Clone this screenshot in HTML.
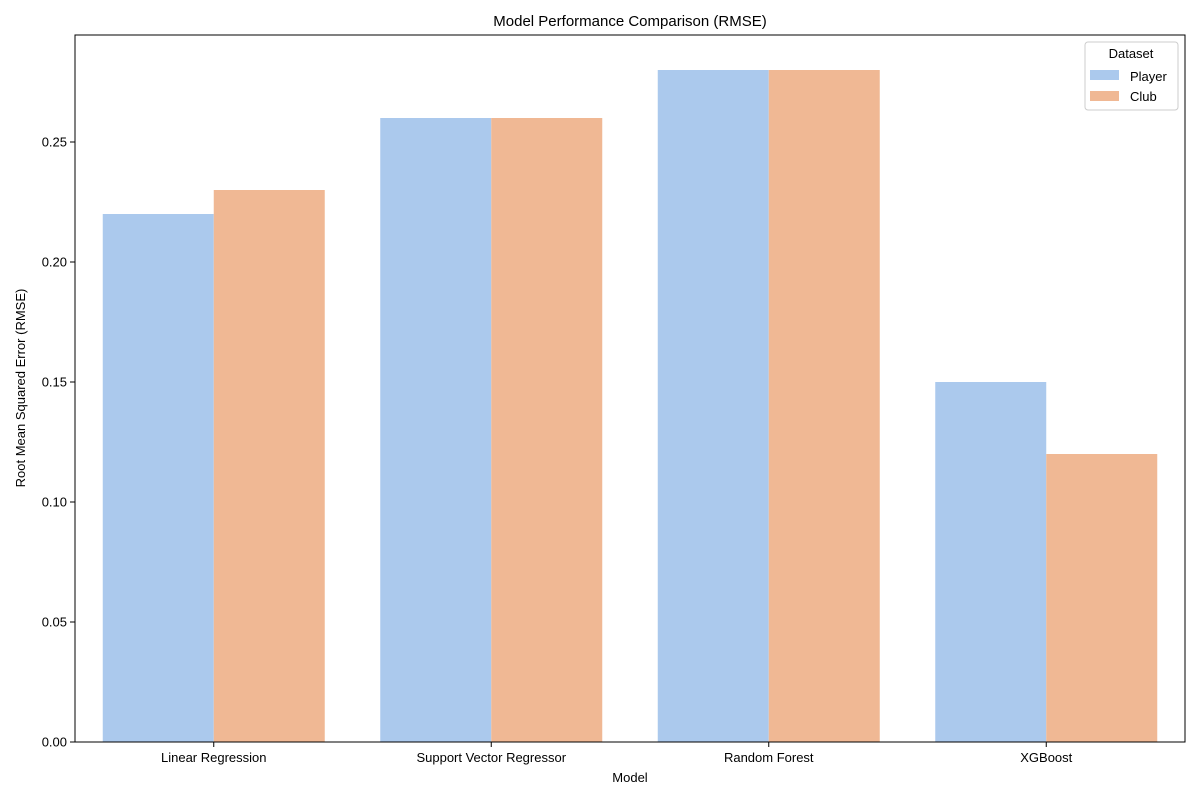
<!DOCTYPE html>
<html><head><meta charset="utf-8"><style>
body{margin:0;background:#fff;}
svg text{font-family:"Liberation Sans","DejaVu Sans",sans-serif;fill:#000;}
</style></head><body>
<svg id="chart" width="1200" height="800" xmlns="http://www.w3.org/2000/svg">
<text x="630" y="26" font-size="15" text-anchor="middle">Model Performance Comparison (RMSE)</text>
<g id="bars"></g>
<g id="axes"></g>
<text x="630" y="782" font-size="13" text-anchor="middle">Model</text>
<text transform="translate(25,388) rotate(-90)" font-size="13" text-anchor="middle">Root Mean Squared Error (RMSE)</text>
<g>
<rect x="1085" y="42" width="93" height="68" fill="#fff" stroke="#ccc" rx="3"/>
<text x="1131" y="58" font-size="13" text-anchor="middle">Dataset</text>
<rect x="1090" y="70" width="29" height="10" fill="#abc9ed"/>
<text x="1130" y="81" font-size="13">Player</text>
<rect x="1090" y="91" width="29" height="10" fill="#f0b894"/>
<text x="1130" y="101" font-size="13">Club</text>
</g>
</svg>
<script>
const categories=["Linear Regression","Support Vector Regressor","Random Forest","XGBoost"];
const playerValues=[0.22,0.26,0.28,0.15];
const clubValues=[0.23,0.26,0.28,0.12];
const yTicks=[0,0.05,0.10,0.15,0.20,0.25];
const yTickLabels=["0.00","0.05","0.10","0.15","0.20","0.25"];

const L=75,R=1185,T=35,B=742,yMax=(B-T)/2400;
const NS="http://www.w3.org/2000/svg";
function y(v){return B-(v/yMax)*(B-T);}
const gw=(R-L)/categories.length;
function xc(i){return L+gw*(i+0.5);}
function mk(tag,attrs,parent){const e=document.createElementNS(NS,tag);for(const k in attrs)e.setAttribute(k,attrs[k]);parent.appendChild(e);return e;}
const bars=document.getElementById('bars'),axes=document.getElementById('axes');
const bw=gw*0.4;
categories.forEach((c,i)=>{
  const p=mk('rect',{x:xc(i)-bw,y:y(playerValues[i]),width:bw,height:B-y(playerValues[i]),fill:'#abc9ed'},bars);
  
  
  const q=mk('rect',{x:xc(i),y:y(clubValues[i]),width:bw,height:B-y(clubValues[i]),fill:'#f0b894'},bars);
  
  
  const t=mk('line',{x1:xc(i),x2:xc(i),y1:B,y2:B+5,stroke:'#000'},axes);
  
  
  const l=mk('text',{x:xc(i),y:B+20,'font-size':13,'text-anchor':'middle'},axes);
  l.textContent=c;
  
  
});
yTicks.forEach((v,i)=>{
  const t=mk('line',{x1:L-5,x2:L,y1:y(v),y2:y(v),stroke:'#000'},axes);
  
  
  const l=mk('text',{x:L-8,y:y(v)+4.5,'font-size':13,'text-anchor':'end'},axes);
  l.textContent=yTickLabels[i];
  
  
});
const f=mk('rect',{x:L,y:T,width:R-L,height:B-T,fill:'none',stroke:'#000','stroke-width':1},axes);


</script>
</body></html>
